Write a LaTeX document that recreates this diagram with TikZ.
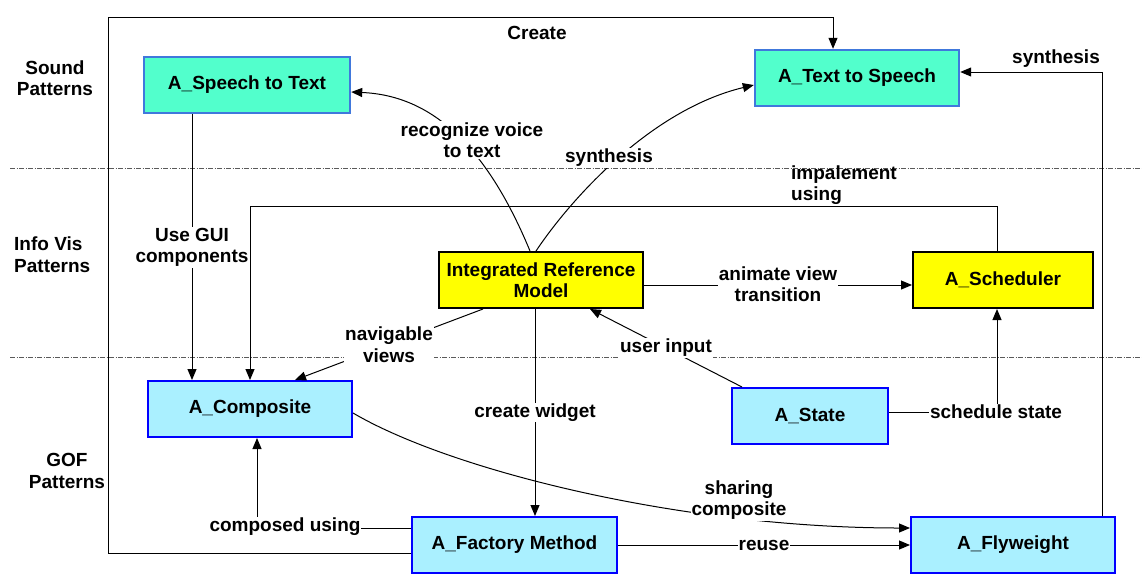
\documentclass[tikz,border=0pt]{standalone}
\usepackage{fontspec}
\setmainfont{Liberation Sans}
\usetikzlibrary{arrows.meta,calc}
\definecolor{sndfill}{RGB}{82,255,204}
\definecolor{sndedge}{RGB}{64,120,220}
\definecolor{goffill}{RGB}{170,240,255}
\definecolor{gofedge}{RGB}{0,0,255}
\definecolor{visfill}{RGB}{255,255,0}
\definecolor{sepgray}{RGB}{90,90,90}
\begin{document}
\begin{tikzpicture}[x=1pt,y=-1pt,
  font=\fontsize{19}{21.5}\selectfont\bfseries,
  box/.style={draw, line width=2pt, minimum height=56pt, inner sep=0pt, align=center},
  sndbox/.style={box, fill=sndfill, draw=sndedge, line width=2.4pt},
  visbox/.style={box, fill=visfill, draw=black},
  gofbox/.style={box, fill=goffill, draw=gofedge},
  lbl/.style={fill=white, inner sep=1pt, align=center},
  txt/.style={inner sep=1pt, align=center},
  conn/.style={draw=black, line width=1pt},
  arr/.style={conn, -{Triangle[length=11pt,width=9pt]}},
  sepline/.style={draw=sepgray, line width=0.8pt, dash pattern=on 5pt off 1.5pt on 1pt off 1.5pt}]
\useasboundingbox (0,0) rectangle (1142,574);

% layer separators
\draw[sepline] (10,168) -- (1142,168);
\draw[sepline] (10,357) -- (1142,357);

% layer names
\node[txt] (lsound) at (55,78) {Sound\\Patterns};
\node[txt, align=left, anchor=west] (linfo) at (13,254.5) {Info Vis\\Patterns};
\node[txt] (lgof) at (67,471) {GOF\\Patterns};

% pattern boxes
\node[sndbox, minimum width=206pt] (stt) at (247,85) {A\_Speech to Text};
\node[sndbox, minimum width=204pt] (tts) at (857,78) {A\_Text to Speech};
\node[visbox, minimum width=204pt] (irm) at (541,280) {Integrated Reference\\Model};
\node[visbox, minimum width=180pt] (sch) at (1003,280) {A\_Scheduler};
\node[gofbox, minimum width=204pt] (comp) at (250,409) {A\_Composite};
\node[gofbox, minimum width=156pt] (state) at (810,416) {A\_State};
\node[gofbox, minimum width=205pt] (fm) at (514.5,545) {A\_Factory Method};
\node[gofbox, minimum width=204pt] (fly) at (1013,545) {A\_Flyweight};

% routing points
\coordinate (c1) at (108,553);
\coordinate (c2) at (108,17);
\coordinate (c3) at (833,17);
\coordinate (gx) at (192,0);
\coordinate (i1) at (997,206);
\coordinate (i2) at (250,206);
\coordinate (s1) at (1102,72);
\coordinate (cu) at (257,528);

% Create
\draw[arr] (fm.west |- c1) -- (c1) -- (c2) -- (c3) -- (tts.north -| c3);
\node[txt] (lcreate) at (537,33) {Create};

% Use GUI components
\draw[arr] (stt.south -| gx) -- (comp.north -| gx);

% impalement using
\draw[arr] (sch.north -| i1) -- (i1) -- (i2) -- (comp.north -| i2);
\node[txt, align=left, anchor=west] (limp) at (790,185) {impalement\\using};

% recognize voice to text
\draw[arr] (irm.north -| 530,0) .. controls (480,130) and (420,95) .. (stt.east |- 0,92);

% synthesis from the model
\draw[arr] (irm.north -| 536,0) .. controls (570,200) and (650,110) .. (tts.west |- 0,85);

% synthesis from the flyweight
\draw[arr] (fly.north -| s1) -- (s1) -- (tts.east |- s1);
\node[txt] (lsyn2) at (1056,59) {synthesis};

% animate view transition
\draw[arr] (irm.east |- 0,285) -- (sch.west |- 0,285);

% schedule state
\node[lbl] (lss) at (996,412) {schedule state};
\draw[conn] (state.east |- lss) -- (lss.west);
\draw[arr] (lss.north -| i1) -- (sch.south -| i1);

% user input
\draw[arr] ($(state.north west)+(11,0)$) -- (irm.south -| 590,0)
  node[lbl, midway] (luser) {user input};

% navigable views
\draw[arr] (irm.south -| 483,0) -- (comp.north -| 295,0)
  node[lbl, midway] (lnav) {navigable\\views};

% create widget
\draw[arr] (irm.south -| 535,0) -- (fm.north -| 535,0)
  node[lbl, midway] (lwid) {create widget};

% composed using
\draw[arr] (fm.west |- cu) -- (cu) -- (comp.south -| cu);

% sharing composite
\draw[arr] (comp.east |- 0,413) .. controls (450,470) and (680,528) .. (fly.west |- 0,528);

% reuse
\draw[arr] (fm.east) -- (fly.west) node[lbl, midway] (lreuse) {reuse};

% labels sitting on connectors
\node[lbl] (lgui) at (192,247.5) {Use GUI\\components};
\node[lbl] (lrec) at (472,140) {recognize voice\\to text};
\node[lbl] (lsyn1) at (609,158) {synthesis};
\node[lbl] (lanim) at (778,284) {animate view\\transition};
\node[lbl] (lcomp) at (285,527) {composed using};
\node[lbl] (lshare) at (739,500) {sharing\\composite};
\end{tikzpicture}
\end{document}
